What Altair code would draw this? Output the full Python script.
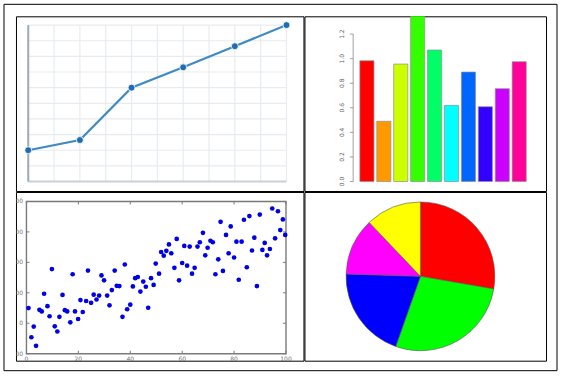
import altair as alt
import pandas as pd

# ---------------- data ----------------
# panel 1: line chart
line_x = [0, 2, 4, 6, 8, 10]
line_y = [2.0, 2.65, 6.0, 7.3, 8.65, 10.0]
grid_ticks = [0, 1, 2, 3, 4, 5, 6, 7, 8, 9, 10]

# panel 2: bar chart
bar_names = ["1", "2", "3", "4", "5", "6", "7", "8", "9", "10"]
bar_values = [0.983, 0.49, 0.956, 1.38, 1.07, 0.62, 0.891, 0.609, 0.756, 0.975]
bar_colors = ["#FF0000", "#FF9900", "#CCFF00", "#33FF00", "#00FF66",
              "#00FFFF", "#0066FF", "#3300FF", "#CC00FF", "#FF0099"]
bar_ticks = [0.0, 0.2, 0.4, 0.6, 0.8, 1.0, 1.2]
bar_tick_labels = ["0.0", "0.2", "0.4", "0.6", "0.8", "1.0", "1.2"]

# panel 3: scatter
scatter_x = [0.8, 1.9, 2.8, 3.7, 5.0, 5.9, 6.8, 8.1, 8.9, 9.8,
             10.9, 11.9, 12.7, 13.9, 14.8, 15.7, 16.9, 17.8, 18.7, 19.9,
             20.8, 21.7, 23.0, 23.7, 24.9, 25.9, 27.0, 28.0, 28.9, 29.9,
             31.1, 32.0, 32.9, 34.0, 34.8, 35.8, 37.0, 37.9, 38.8, 40.0,
             41.0, 41.9, 42.9, 43.9, 45.0, 46.0, 46.9, 48.0, 49.0, 49.8,
             51.1, 51.9, 52.9, 53.9, 54.9, 55.8, 57.0, 57.9, 58.8, 60.0,
             60.8, 61.9, 62.9, 63.8, 64.8, 65.9, 66.8, 68.0, 68.9, 69.8,
             70.9, 71.8, 72.8, 73.9, 74.8, 75.7, 76.9, 77.9, 78.7, 80.0,
             80.9, 81.8, 82.9, 83.8, 84.9, 85.9, 86.9, 87.8, 88.8, 89.9,
             90.9, 91.8, 92.7, 93.8, 94.7, 95.8, 96.9, 97.8, 98.8, 99.7]
scatter_y = [50, -46, -11, -74, 44, 39, 97, 56, 23, 178,
             -10, -27, 21, 93, 43, 39, 3, 161, 39, 14,
             76, 37, 73, 173, 67, 94, 78, 91, 157, 141,
             91, 59, 109, 173, 123, 122, 21, 193, 46, 61,
             121, 148, 152, 104, 137, 120, 51, 148, 126, 196,
             163, 234, 222, 238, 259, 230, 182, 277, 141, 198,
             254, 189, 252, 163, 182, 252, 266, 297, 223, 248,
             271, 266, 161, 210, 333, 172, 290, 230, 318, 216,
             268, 143, 268, 340, 184, 352, 239, 281, 122, 357,
             241, 264, 223, 244, 377, 279, 368, 306, 341, 290]
scatter_yticks = [-100, 0, 100, 200, 300, 400]
scatter_ylabels = ["\u2212100", "0", "100", "200", "300", "400"]
scatter_xticks = [0, 20, 40, 60, 80, 100]
scatter_xlabels = ["0", "20", "40", "60", "80", "100"]

# panel 4: pie
pie_labels = ["red", "green", "blue", "magenta", "yellow"]
pie_values = [27.7, 27.7, 20.1, 12.4, 12.1]
pie_colors = ["#FF0000", "#00FF00", "#0000FF", "#FF00FF", "#FFFF00"]
pie_order = [1, 2, 3, 4, 5]

FONT = "DejaVu Sans"

# ---------------- panel 1 ----------------
p1x = alt.Scale(domain=[0, 10], range=[12.3, 271.0])
p1y = alt.Scale(domain=[0, 10], range=[165.5, 8.8])

grid_df = pd.DataFrame({"g": grid_ticks, "lo": 0, "hi": 10})
vgrid = alt.Chart(grid_df).mark_rule(color="#e8ecf0", strokeWidth=1.2).encode(
    x=alt.X("g:Q", scale=p1x, axis=None),
    y=alt.Y("lo:Q", scale=p1y, axis=None),
    y2="hi:Q")
hgrid = alt.Chart(grid_df).mark_rule(color="#e8ecf0", strokeWidth=1.2).encode(
    y=alt.Y("g:Q", scale=p1y, axis=None),
    x=alt.X("lo:Q", scale=p1x, axis=None),
    x2="hi:Q")
ax_df = pd.DataFrame({"z": [0], "t": [10]})
bottom_axis = alt.Chart(ax_df).mark_rule(color="#c9d0d7", strokeWidth=2).encode(
    y=alt.Y("z:Q", scale=p1y, axis=None),
    x=alt.X("z:Q", scale=p1x, axis=None),
    x2="t:Q")
left_axis = alt.Chart(ax_df).mark_rule(color="#9eaab7", strokeWidth=2).encode(
    x=alt.X("z:Q", scale=p1x, axis=None),
    y=alt.Y("z:Q", scale=p1y, axis=None),
    y2="t:Q")
line_df = pd.DataFrame({"x": line_x, "y": line_y})
line = alt.Chart(line_df).mark_line(color="#3e8ac5", strokeWidth=2.2).encode(
    x=alt.X("x:Q", scale=p1x, axis=None),
    y=alt.Y("y:Q", scale=p1y, axis=None))
pts = alt.Chart(line_df).mark_circle(size=48, color="#1e6db3", opacity=1,
                                     stroke="white", strokeWidth=0.8).encode(
    x=alt.X("x:Q", scale=p1x, axis=None),
    y=alt.Y("y:Q", scale=p1y, axis=None))
outer = alt.Chart(pd.DataFrame({"k": [0]})).mark_rect(
    fillOpacity=0, stroke="black", strokeWidth=1, clip=False).encode(
    x=alt.value(-12), x2=alt.value(542), y=alt.value(-12), y2=alt.value(355))

panel1 = alt.layer(vgrid, hgrid, bottom_axis, left_axis, line, pts, outer).properties(
    width=288, height=175)

# ---------------- panel 2 ----------------
p2x = alt.Scale(domain=bar_names, range=[55.5, 222.2], paddingInner=1 / 6, paddingOuter=0)
p2y = alt.Scale(domain=[0, 1.2], range=[165.5, 17.8])
bar_df = pd.DataFrame({"name": bar_names, "value": bar_values, "base": 0.0,
                       "color": bar_colors})
bars = alt.Chart(bar_df).mark_bar(clip=True, stroke="#8f8f8f", strokeWidth=0.7).encode(
    x=alt.X("name:N", scale=p2x, axis=None, sort=None),
    y=alt.Y("value:Q", scale=p2y, axis=None),
    y2="base:Q",
    color=alt.Color("color:N", scale=None))
tick_df = pd.DataFrame({"t": bar_ticks, "label": bar_tick_labels})
axis_df = pd.DataFrame({"lo": [bar_ticks[0]], "hi": [bar_ticks[-1]]})
bar_axis = alt.Chart(axis_df).mark_rule(color="#8a8a8a", strokeWidth=0.8).encode(
    x=alt.value(48.8),
    y=alt.Y("lo:Q", scale=p2y, axis=None),
    y2="hi:Q")
bar_ticks_m = alt.Chart(tick_df).mark_rule(color="#8a8a8a", strokeWidth=0.8).encode(
    x=alt.value(45.5), x2=alt.value(48.8),
    y=alt.Y("t:Q", scale=p2y, axis=None))
bar_labels = alt.Chart(tick_df).mark_text(
    angle=270, fontSize=6, color="#666666", font=FONT, align="center",
    baseline="middle").encode(
    x=alt.value(38.0),
    y=alt.Y("t:Q", scale=p2y, axis=None),
    text="label:N")
panel2 = alt.layer(bars, bar_axis, bar_ticks_m, bar_labels).properties(width=242, height=175)

# ---------------- panel 3 ----------------
p3x = alt.Scale(domain=[0, 100], range=[10.5, 270.5])
p3y = alt.Scale(domain=[-100, 400], range=[162.0, 9.5])
x0, x1 = scatter_xticks[0], scatter_xticks[-1]
y0, y1 = scatter_yticks[0], scatter_yticks[-1]
frame_df = pd.DataFrame({"x0": [x0], "x1": [x1], "y0": [y0], "y1": [y1]})
frame = alt.Chart(frame_df).mark_rect(fillOpacity=0, stroke="#7a7a7a", strokeWidth=1.4).encode(
    x=alt.X("x0:Q", scale=p3x, axis=None), x2="x1:Q",
    y=alt.Y("y0:Q", scale=p3y, axis=None), y2="y1:Q")
yt_df = pd.DataFrame({"t": scatter_yticks, "label": scatter_ylabels, "x0": x0, "x1": x1})
xt_df = pd.DataFrame({"t": scatter_xticks, "label": scatter_xlabels, "y0": y0, "y1": y1})
ytick_l = alt.Chart(yt_df).mark_rule(color="#7a7a7a", strokeWidth=1, x2Offset=3).encode(
    x=alt.X("x0:Q", scale=p3x, axis=None), x2="x0:Q",
    y=alt.Y("t:Q", scale=p3y, axis=None))
ytick_r = alt.Chart(yt_df).mark_rule(color="#7a7a7a", strokeWidth=1, x2Offset=-3).encode(
    x=alt.X("x1:Q", scale=p3x, axis=None), x2="x1:Q",
    y=alt.Y("t:Q", scale=p3y, axis=None))
xtick_b = alt.Chart(xt_df).mark_rule(color="#7a7a7a", strokeWidth=1, y2Offset=-3).encode(
    y=alt.Y("y0:Q", scale=p3y, axis=None), y2="y0:Q",
    x=alt.X("t:Q", scale=p3x, axis=None))
xtick_t = alt.Chart(xt_df).mark_rule(color="#7a7a7a", strokeWidth=1, y2Offset=3).encode(
    y=alt.Y("y1:Q", scale=p3y, axis=None), y2="y1:Q",
    x=alt.X("t:Q", scale=p3x, axis=None))
ylabels = alt.Chart(yt_df).mark_text(
    align="right", baseline="middle", dx=-3.5, fontSize=6, color="#707070",
    font=FONT, clip=True).encode(
    x=alt.X("x0:Q", scale=p3x, axis=None),
    y=alt.Y("t:Q", scale=p3y, axis=None),
    text="label:N")
xlabels = alt.Chart(xt_df).mark_text(
    align="center", baseline="top", dy=2, fontSize=6, color="#707070",
    font=FONT, clip=True).encode(
    x=alt.X("t:Q", scale=p3x, axis=None),
    y=alt.Y("y0:Q", scale=p3y, axis=None),
    text="label:N")
sc_df = pd.DataFrame({"x": scatter_x, "y": scatter_y})
scatter = alt.Chart(sc_df).mark_circle(size=22, color="#0000e8", opacity=1).encode(
    x=alt.X("x:Q", scale=p3x, axis=None),
    y=alt.Y("y:Q", scale=p3y, axis=None))
panel3 = alt.layer(frame, ytick_l, ytick_r, xtick_b, xtick_t, ylabels, xlabels,
                   scatter).properties(width=288, height=169)

# ---------------- panel 4 ----------------
pie_df = pd.DataFrame({"label": pie_labels, "value": pie_values,
                       "color": pie_colors, "order": pie_order})
pie = alt.Chart(pie_df).mark_arc(radius=74.5, stroke="#555555", strokeWidth=0.6).encode(
    theta=alt.Theta("value:Q", stack=True),
    color=alt.Color("color:N", scale=None),
    order=alt.Order("order:Q"),
    x=alt.value(116.2), y=alt.value(84.5))
panel4 = pie.properties(width=242, height=169)

chart = alt.concat(
    panel1, panel2, panel3, panel4, columns=2, spacing=1, bounds="flush",
).properties(padding=3, background="white").configure_view(
    stroke="black", strokeWidth=1)

chart.save("out.html", embed_options={"renderer": "svg", "actions": False})
